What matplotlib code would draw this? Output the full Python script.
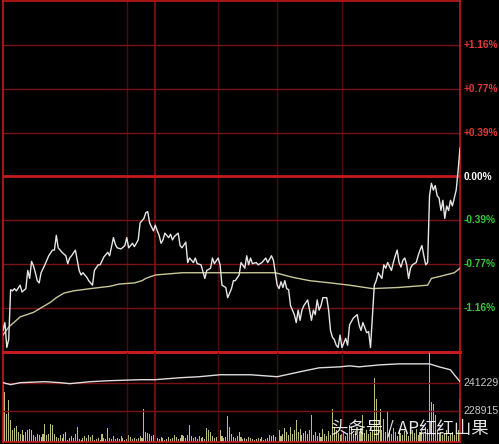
import numpy as np
import matplotlib
matplotlib.use('Agg')
import matplotlib.pyplot as plt

# price line: minute of the session, change in percent
price_t = [0, 1, 2, 3, 4, 5, 6, 7, 9, 10, 12, 13, 14, 15, 16, 17, 18, 19, 20, 22,
           24, 26, 27, 28, 29, 31, 33, 34, 35, 36, 38, 39, 40, 41, 42, 44, 45, 47, 48, 50,
           51, 53, 55, 56, 58, 59, 60, 62, 64, 65, 66, 68, 69, 71, 72, 74, 75, 76, 77, 79,
           80, 81, 82, 83, 84, 85, 87, 88, 89, 90, 92, 93, 94, 96, 97, 98, 100, 101, 102, 104,
           106, 107, 109, 110, 111, 113, 114, 115, 117, 118, 120, 121, 122, 124, 125, 127, 128, 129, 130, 131,
           133, 134, 136, 138, 139, 141, 142, 143, 144, 145, 146, 147, 148, 149, 150, 151, 153, 154, 155, 156,
           157, 158, 160, 161, 162, 163, 164, 165, 166, 167, 168, 170, 171, 172, 173, 174, 175, 176, 177, 178,
           180, 181, 182, 184, 186, 187, 188, 189, 191, 192, 193, 195, 196, 197, 199, 200, 201, 202, 204, 205,
           206, 207, 208, 209, 210, 211, 212, 213, 214, 215, 217, 218, 219, 220, 221, 222, 223, 224, 225, 226,
           227, 228, 229, 230, 231, 232, 233, 234, 235, 236, 237, 238, 239, 240]
price_pct = [-1.36, -1.29, -1.51, -1.44, -1.00, -1.01, -0.99, -1.01, -0.96, -1.02, -0.99, -0.83, -0.90, -0.75, -0.79, -0.85, -0.92, -0.94, -0.85, -0.78,
             -0.70, -0.65, -0.65, -0.52, -0.63, -0.67, -0.70, -0.77, -0.72, -0.70, -0.65, -0.74, -0.83, -0.87, -0.85, -0.89, -0.92, -0.96, -0.83, -0.78,
             -0.78, -0.71, -0.67, -0.70, -0.54, -0.60, -0.63, -0.64, -0.61, -0.54, -0.63, -0.59, -0.62, -0.56, -0.41, -0.37, -0.32, -0.31, -0.41, -0.48,
             -0.43, -0.48, -0.52, -0.59, -0.56, -0.50, -0.54, -0.51, -0.56, -0.53, -0.50, -0.61, -0.63, -0.58, -0.76, -0.72, -0.76, -0.72, -0.77, -0.78,
             -0.90, -0.83, -0.81, -0.72, -0.77, -0.72, -0.78, -0.96, -0.98, -1.07, -0.99, -0.92, -0.92, -0.87, -0.76, -0.81, -0.70, -0.78, -0.72, -0.77,
             -0.76, -0.78, -0.76, -0.72, -0.76, -0.70, -0.74, -0.85, -0.96, -0.99, -0.93, -0.98, -0.92, -0.99, -1.00, -1.14, -1.22, -1.29, -1.18, -1.27,
             -1.18, -1.14, -1.09, -1.18, -1.27, -1.18, -1.22, -1.09, -1.18, -1.14, -1.07, -1.07, -1.18, -1.36, -1.42, -1.44, -1.49, -1.51, -1.40, -1.51,
             -1.43, -1.49, -1.31, -1.25, -1.22, -1.31, -1.36, -1.29, -1.38, -1.37, -1.51, -0.96, -0.92, -0.85, -0.90, -0.78, -0.81, -0.76, -0.83, -0.76,
             -0.70, -0.65, -0.76, -0.80, -0.74, -0.72, -0.78, -0.90, -0.81, -0.78, -0.76, -0.70, -0.65, -0.61, -0.70, -0.78, -0.76, -0.17, -0.06, -0.12,
             -0.08, -0.17, -0.19, -0.30, -0.21, -0.37, -0.26, -0.30, -0.21, -0.26, -0.19, -0.12, 0.05, 0.25]

# average price line
avg_t = [0, 3, 9, 16, 21, 25, 28, 32, 37, 46, 56, 61, 69, 73, 75, 80, 94, 105, 115, 122,
         143, 152, 161, 172, 182, 194, 208, 223, 225, 230, 237, 240]
avg_pct = [-1.40, -1.33, -1.24, -1.20, -1.15, -1.11, -1.07, -1.03, -1.01, -0.99, -0.97, -0.95, -0.94, -0.92, -0.90, -0.87, -0.85, -0.85, -0.85, -0.85,
           -0.85, -0.89, -0.92, -0.94, -0.96, -0.99, -0.98, -0.96, -0.90, -0.88, -0.85, -0.81]

# line in the volume panel
vline_t = [0, 4, 9, 22, 30, 35, 46, 56, 72, 80, 93, 103, 114, 124, 130, 144, 156, 166, 177, 182,
           187, 198, 208, 219, 224, 229, 235, 237, 240]
vline_val = [241229, 240380, 241229, 241654, 241229, 240804, 241654, 242078, 242503, 242503, 243352, 243777, 244626, 244626, 244626,
             243777, 245900, 247598, 248023, 248447, 248023, 248872, 249296, 249296, 249296, 248023, 246749, 244626, 241654]

# volume per minute
volume = [57, 50, 28, 42, 22, 12, 14, 16, 10, 8, 12, 7, 10, 12, 13, 12, 7, 5, 8, 7,
          5, 8, 18, 7, 8, 18, 17, 8, 5, 4, 7, 4, 8, 10, 2, 4, 6, 4, 8, 15,
          3, 2, 4, 6, 4, 7, 5, 7, 2, 3, 4, 2, 8, 4, 3, 14, 4, 3, 6, 3,
          4, 3, 6, 4, 2, 3, 7, 5, 3, 4, 3, 4, 6, 4, 33, 10, 9, 8, 6, 7,
          8, 4, 3, 5, 4, 2, 3, 5, 3, 4, 7, 5, 3, 4, 7, 6, 4, 7, 17, 6,
          4, 5, 3, 6, 4, 5, 3, 14, 12, 10, 6, 4, 5, 8, 12, 6, 4, 5, 26, 15,
          8, 5, 4, 6, 10, 5, 3, 4, 3, 5, 4, 3, 2, 3, 4, 3, 5, 2, 3, 4,
          7, 6, 7, 5, 9, 12, 6, 8, 14, 10, 7, 15, 8, 12, 22, 10, 13, 7, 9, 11,
          8, 12, 27, 7, 10, 6, 9, 5, 13, 8, 6, 11, 7, 33, 15, 12, 9, 7, 8, 10,
          6, 9, 17, 15, 8, 11, 7, 10, 14, 27, 9, 12, 8, 10, 12, 64, 43, 15, 33, 12,
          23, 10, 30, 12, 8, 14, 10, 6, 12, 9, 7, 11, 8, 6, 10, 12, 9, 13, 7, 10,
          11, 8, 15, 13, 92, 40, 38, 27, 12, 8, 10, 7, 9, 12, 6, 8, 10, 7, 9, 12, 43]

pct_levels = [1.1625, 0.775, 0.3875, 0.0, -0.3875, -0.775, -1.1625]
pct_labels = ['+1.16%', '+0.77%', '+0.39%', '0.00%', '-0.39%', '-0.77%', '-1.16%']
vol_ticks = [241229, 228915]

RED = '#c41a1a'
GRID = '#7a1414'

W, H = 499, 444
fig = plt.figure(figsize=(W / 100, H / 100), dpi=100, facecolor='black')

x0, x1 = 3, 460
ax = fig.add_axes([x0 / W, 1 - 352 / H, (x1 - x0) / W, 351 / H])
axv = fig.add_axes([x0 / W, 1 - 442 / H, (x1 - x0) / W, 90 / H])

for a in (ax, axv):
    a.set_facecolor('black')
    a.set_xlim(0, 240)
    a.set_xticks([])
    a.set_yticks([])
    for s in a.spines.values():
        s.set_color(RED)
        s.set_linewidth(1.2)
    for xv in (65, 113, 144, 178):
        a.axvline(xv, color='#4a0c0c', lw=1.0, zorder=1)
    a.axvline(80, color='#6e1010', lw=1.4, zorder=1)

ax.spines['bottom'].set_linewidth(2.2)
ax.set_ylim(-1.55, 1.55)
for lv, lb in zip(pct_levels, pct_labels):
    if lv == 0:
        ax.axhline(lv, color=RED, lw=2.0, zorder=1)
        col = 'white'
    else:
        ax.axhline(lv, color=GRID, lw=1.0, zorder=1)
        col = '#e03838' if lv > 0 else '#38c838'
    ax.text(1.007, lv, lb, transform=ax.get_yaxis_transform(), color=col,
            fontsize=7.3, fontweight='bold', family='Liberation Sans',
            ha='left', va='center')

ax.plot(avg_t, avg_pct, color='#c8c898', lw=1.0, zorder=3)
ax.plot(price_t, price_pct, color='#e6e6e6', lw=1.0, zorder=4)

# volume panel
axv.set_ylim(215753, 254392)
for v in vol_ticks:
    axv.axhline(v, color=GRID, lw=1.0, zorder=1)
    axv.text(1.007, v, str(v), transform=axv.get_yaxis_transform(), color='#c8c8c8',
             fontsize=7.6, family='Liberation Sans', ha='left', va='center')
axv.plot(vline_t, vline_val, color='#e0dcdc', lw=1.0, zorder=4)

axb = axv.twinx()
axb.set_ylim(0, 90)
axb.set_xlim(0, 240)
axb.set_yticks([])
axb.set_xticks([])
for s in axb.spines.values():
    s.set_visible(False)
axb.bar(np.arange(len(volume)), volume, width=0.55, color='#bcbc7c', zorder=2)
axv.set_zorder(axb.get_zorder() + 1)
axv.patch.set_visible(False)

fig.text(410 / W, 1 - 428 / H, '头条号 / AP红红山果', color='white', alpha=0.9,
         fontsize=12.5, family=['Noto Sans CJK SC', 'DejaVu Sans'],
         ha='center', va='center')

fig.savefig('out.png', dpi=100, facecolor='black')
